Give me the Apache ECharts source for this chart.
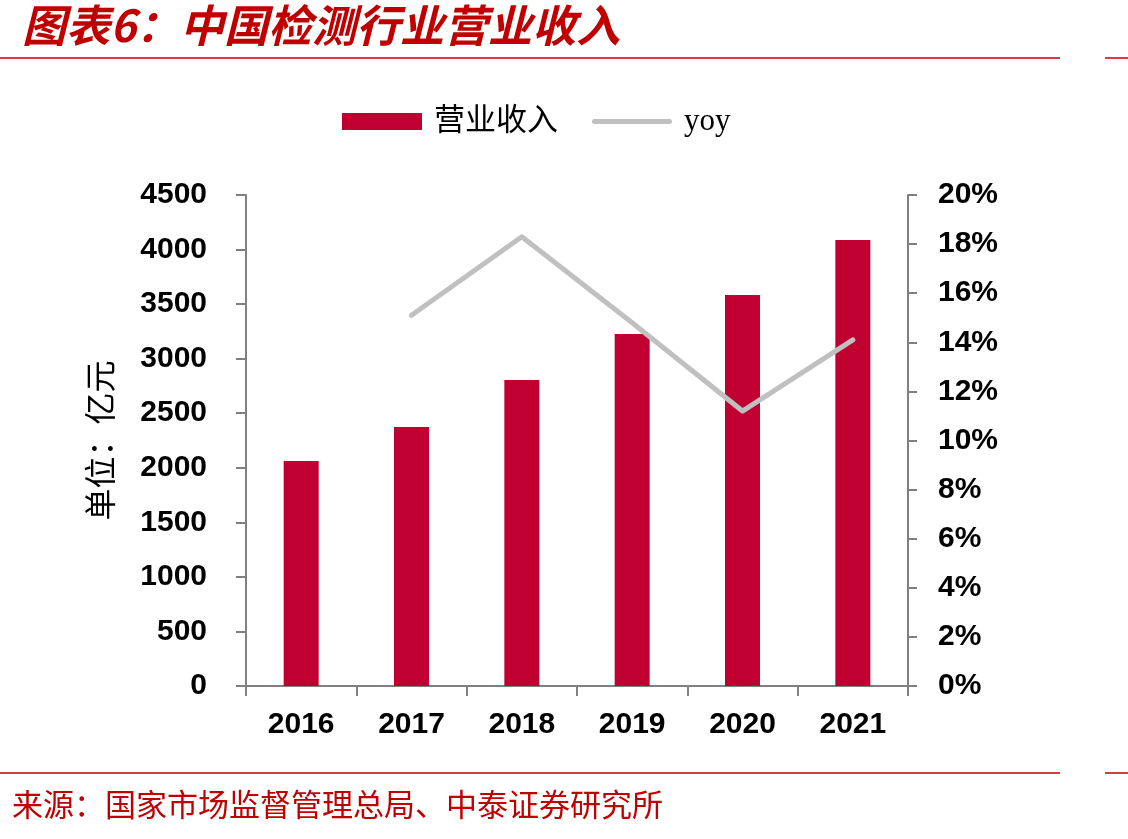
<!DOCTYPE html>
<html>
<head>
<meta charset="utf-8">
<script src="https://cdn.jsdelivr.net/npm/echarts@6/dist/echarts.min.js"></script>
<style>
html,body{margin:0;padding:0;background:#fff;}
#chart{width:1128px;height:839px;}
</style>
</head>
<body>
<div id="chart"></div>
<script>
const categories = ['2016', '2017', '2018', '2019', '2020', '2021'];
const revenue = [2062, 2374, 2804, 3226, 3583, 4088];
const yoy = [null, 15.1, 18.3, 14.8, 11.2, 14.1];
const leftTicks = [0, 4500, 500];
const rightTicks = [0, 20, 2];

const RED = '#C00000';
const BAR = '#C00031';
const AXIS = '#808080';
const NUMFONT = '"Liberation Sans", Arial, sans-serif';

const chart = echarts.init(document.getElementById('chart'), null, {renderer: 'canvas'});
chart.setOption({
  backgroundColor: '#fff',
  animation: false,
  graphic: [
    {type: 'text', left: 22, top: 3, style: {text: '图表6：中国检测行业营业收入', fill: RED, font: 'italic bold 44px "Noto Sans CJK SC", sans-serif'}},
    {type: 'line', shape: {x1: 0, y1: 58, x2: 1060, y2: 58}, style: {stroke: RED, lineWidth: 1.5}},
    {type: 'line', shape: {x1: 1105, y1: 58, x2: 1128, y2: 58}, style: {stroke: RED, lineWidth: 1.5}},
    {type: 'line', shape: {x1: 0, y1: 773, x2: 1060, y2: 773}, style: {stroke: RED, lineWidth: 1.5}},
    {type: 'line', shape: {x1: 1105, y1: 773, x2: 1128, y2: 773}, style: {stroke: RED, lineWidth: 1.5}},
    {type: 'text', left: 12, top: 789, style: {text: '来源：国家市场监督管理总局、中泰证券研究所', fill: RED, font: '31px "Noto Sans CJK SC", sans-serif'}}
  ],
  legend: {
    left: 337, top: 101,
    itemWidth: 80, itemHeight: 17, itemGap: 34,
    symbolKeepAspect: true,
    textStyle: {fontSize: 31, color: '#000', fontFamily: '"Liberation Serif", "Noto Sans CJK SC", serif', padding: [0, 0, 0, 7]},
    data: [
      {name: '营业收入', icon: 'rect'},
      {name: 'yoy', icon: 'path://M2.5,0 L77.5,0 A2.5,2.5 0 0 1 77.5,5 L2.5,5 A2.5,2.5 0 0 1 2.5,0 Z', itemStyle: {color: '#C0C0C0'}}
    ]
  },
  grid: {left: 246, right: 220, top: 195, height: 491},
  xAxis: {
    type: 'category', data: categories,
    axisLine: {lineStyle: {color: AXIS, width: 2}},
    axisTick: {show: true, length: 10, lineStyle: {color: AXIS, width: 2}},
    axisLabel: {fontSize: 30, fontWeight: 'bold', color: '#000', fontFamily: NUMFONT, margin: 24}
  },
  yAxis: [
    {
      type: 'value', min: leftTicks[0], max: leftTicks[1], interval: leftTicks[2],
      name: '单位：亿元', nameLocation: 'middle', nameGap: 130,
      nameTextStyle: {fontSize: 32, color: '#000', fontFamily: '"Noto Sans CJK SC", serif'},
      axisLine: {show: true, lineStyle: {color: AXIS, width: 2}},
      axisTick: {show: true, length: 10, lineStyle: {color: AXIS, width: 2}},
      splitLine: {show: false},
      axisLabel: {fontSize: 30, fontWeight: 'bold', color: '#000', fontFamily: NUMFONT, margin: 39, formatter: function (v) { return String(v); }}
    },
    {
      type: 'value', position: 'right', min: rightTicks[0], max: rightTicks[1], interval: rightTicks[2],
      axisLine: {show: true, lineStyle: {color: AXIS, width: 2}},
      axisTick: {show: true, length: 9, lineStyle: {color: AXIS, width: 2}},
      splitLine: {show: false},
      axisLabel: {fontSize: 30, fontWeight: 'bold', color: '#000', fontFamily: NUMFONT, margin: 30, formatter: '{value}%'}
    }
  ],
  series: [
    {name: '营业收入', type: 'bar', data: revenue, barWidth: 35, itemStyle: {color: BAR}, yAxisIndex: 0},
    {name: 'yoy', type: 'line', data: yoy, yAxisIndex: 1, symbol: 'none', lineStyle: {color: '#C0C0C0', width: 5, cap: 'round', join: 'round'}, itemStyle: {color: '#C0C0C0'}}
  ]
});
</script>
</body>
</html>
